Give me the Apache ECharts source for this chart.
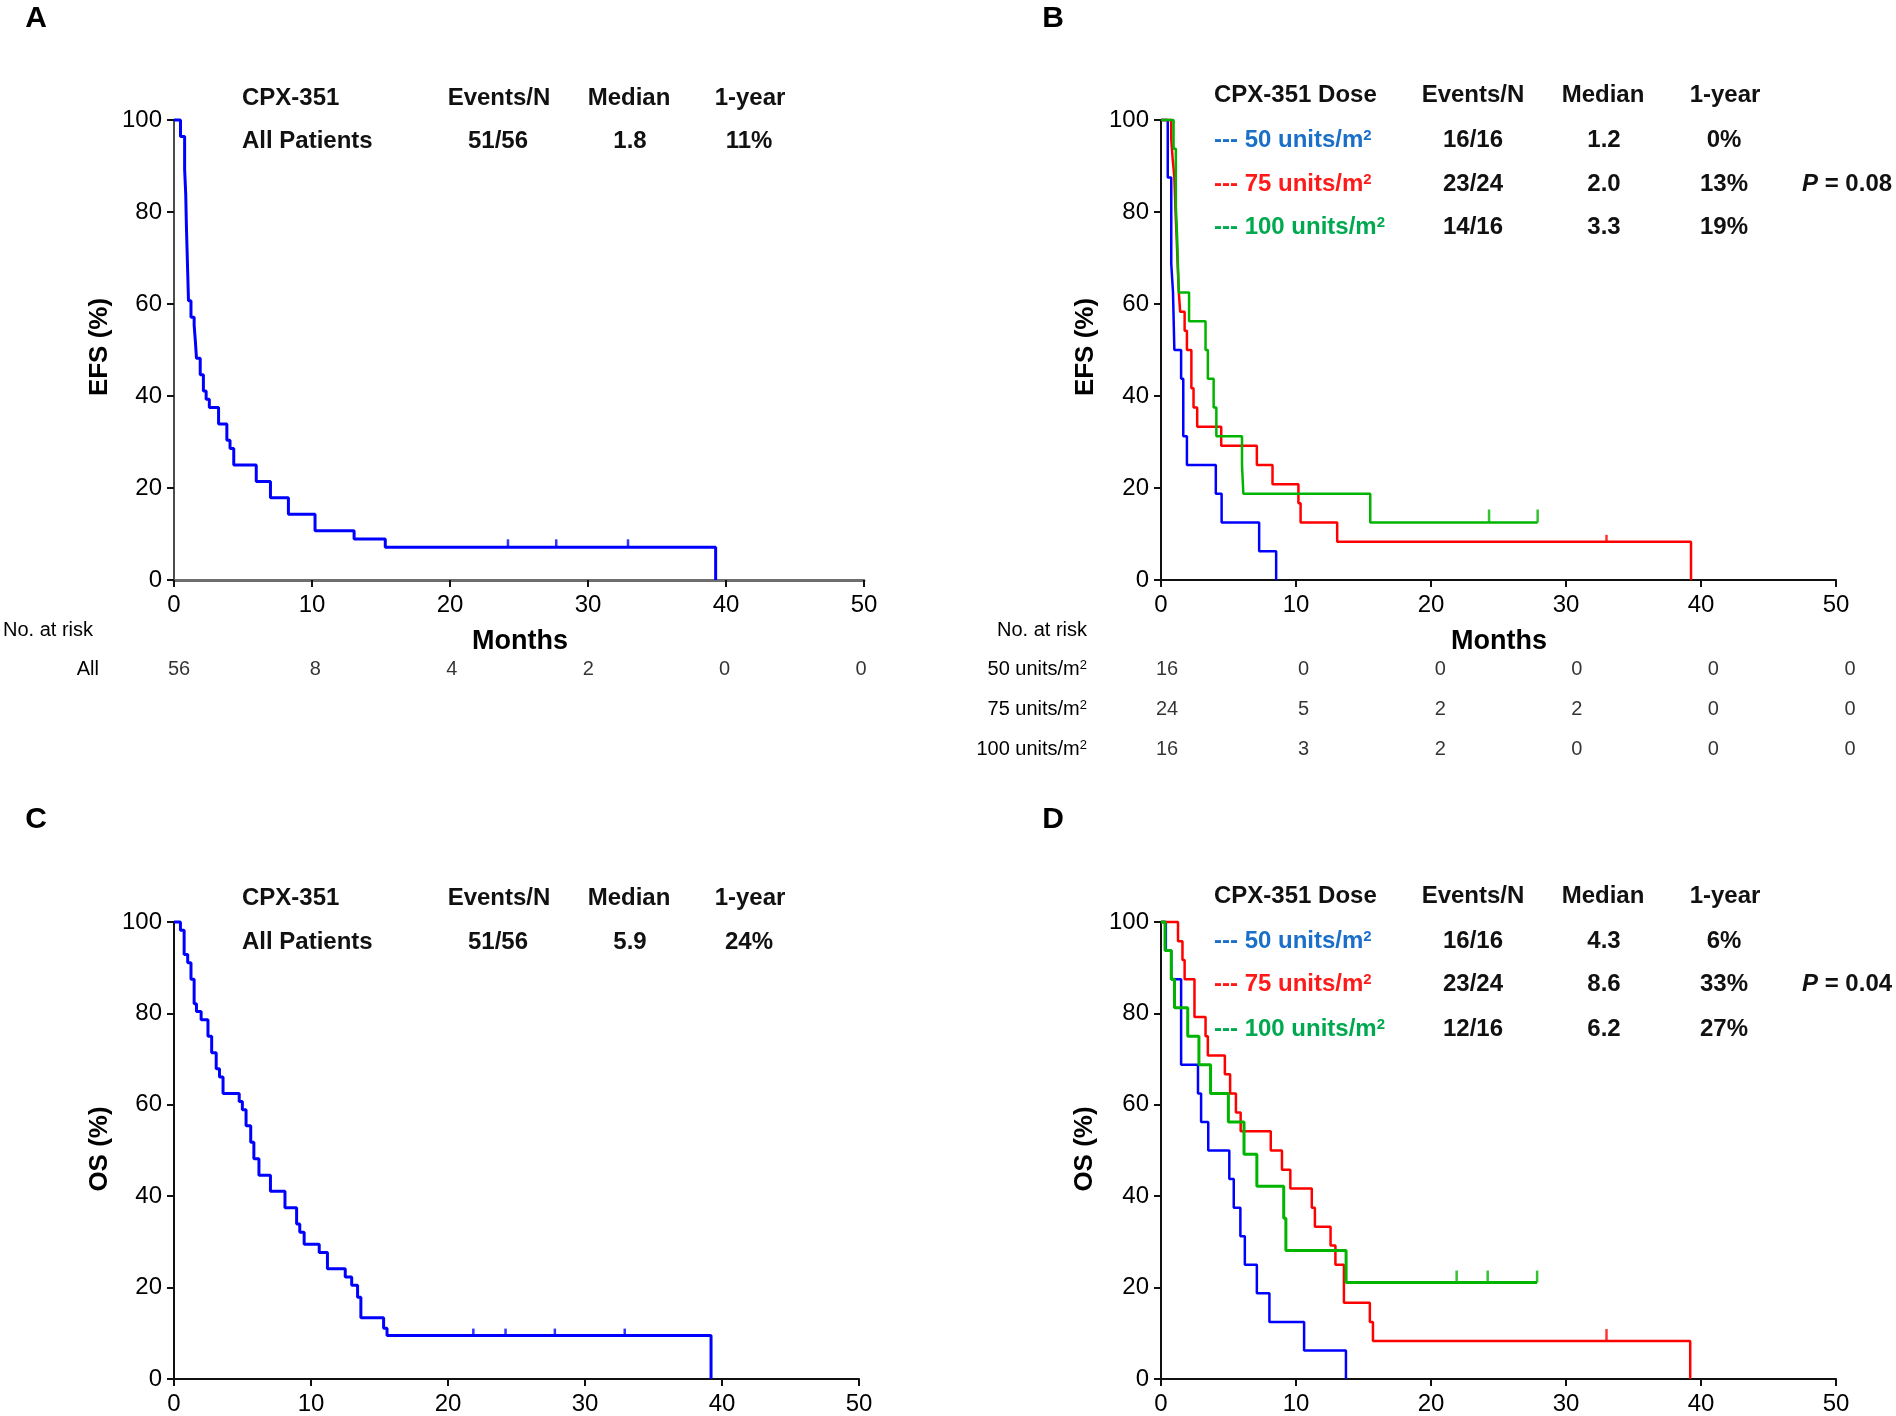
<!DOCTYPE html>
<html><head><meta charset="utf-8">
<script src="https://cdn.jsdelivr.net/npm/echarts/dist/echarts.min.js"></script>
<style>html,body{margin:0;padding:0;background:#fff}#c{width:1896px;height:1416px}</style>
</head><body><div id="c"></div><script>
// ---------- DATA ----------
// Panel A: EFS, all patients (time in months, survival %)
const efsAllT = [0,0.47,0.77,0.85,0.9,1.0,1.05,1.23,1.46,1.55,1.63,1.9,2.13,2.33,2.56,3.23,3.83,4.06,4.33,5.96,6.99,8.29,10.22,13.05,15.31,39.25];
const efsAllS = [100,96.4,89.3,83.9,76.8,66.1,60.7,57.1,55.4,51.8,48.2,44.6,41.1,39.3,37.5,33.9,30.4,28.6,25.0,21.4,17.9,14.3,10.7,8.9,7.1,0];
const efsAllCensT = [24.2,27.7,32.9];
const efsAllCensS = [7.1,7.1,7.1];

// Panel B: EFS by dose
const efs50T = [0,0.5,0.76,0.89,0.99,1.49,1.65,1.92,4.06,4.49,7.27,8.53];
const efs50S = [100,87.5,68.75,62.5,50,43.75,31.25,25,18.75,12.5,6.25,0];
const efs75T = [0,0.76,0.86,0.99,1.09,1.15,1.26,1.32,1.42,1.75,1.92,2.25,2.41,2.68,4.46,7.1,8.26,10.18,10.34,13.05,39.26];
const efs75S = [100,95.8,91.7,87.5,79.2,75,66.7,62.5,58.3,54.2,50,41.7,37.5,33.3,29.2,25,20.8,16.7,12.5,8.3,0];
const efs75CensT = [33.0];
const efs75CensS = [8.3];
const efs100T = [0,0.93,1.1,1.19,1.25,1.32,2.08,3.3,3.47,3.9,4.1,6.0,6.1,15.5,27.9];
const efs100S = [100,93.75,81.25,75,68.75,62.5,56.25,50,43.75,37.5,31.25,25,18.75,12.5,12.5];
const efs100CensT = [24.3,27.9];
const efs100CensS = [12.5,12.5];

// Panel C: OS, all patients
const osAllT = [0,0.47,0.74,1.0,1.24,1.47,1.64,1.98,2.48,2.75,3.08,3.32,3.58,4.76,4.99,5.26,5.6,5.83,6.2,7.04,8.1,8.95,9.18,9.5,10.6,11.2,12.5,12.97,13.4,13.64,15.3,15.55,39.2];
const osAllS = [100,98.2,92.9,91.1,87.5,82.1,80.4,78.6,75,71.4,67.9,66.1,62.5,60.7,58.9,55.4,51.8,48.2,44.6,41.1,37.5,33.9,32.1,29.5,27.7,24.1,22.3,20.5,17.9,13.4,11.1,9.5,0];
const osAllCensT = [21.85,24.2,27.8,32.9];
const osAllCensS = [9.5,9.5,9.5,9.5];

// Panel D: OS by dose
const os50T = [0,0.36,0.76,1.49,2.74,2.97,3.5,5.06,5.39,5.88,6.21,7.1,8.03,10.6,13.7];
const os50S = [100,93.75,87.5,68.75,62.5,56.25,50,43.75,37.5,31.25,25,18.75,12.5,6.25,0];
const os75T = [0,1.26,1.59,1.75,2.48,3.3,3.47,4.73,5.12,5.55,5.9,8.13,8.96,9.58,11.17,11.4,12.56,12.92,13.55,15.47,15.7,39.2];
const os75S = [100,95.8,91.7,87.5,79.2,75,70.8,66.7,62.5,58.3,54.2,50,45.8,41.7,37.5,33.3,29.2,25,16.7,12.5,8.3,0];
const os75CensT = [33.0];
const os75CensS = [8.3];
const os100T = [0,0.3,0.76,1.0,1.98,2.81,3.67,4.99,6.15,7.1,9.09,9.25,13.71,27.86];
const os100S = [100,93.75,87.5,81.25,75,68.75,62.5,56.25,49.2,42.2,35.2,28.1,21.1,21.1];
const os100CensT = [21.9,24.2,27.86];
const os100CensS = [21.1,21.1,21.1];

// Axis ticks
const xTicks = [0,10,20,30,40,50];

// Risk tables
const riskRowsA = ['All'];
const riskAll = [56,8,4,2,0,0];
const riskRowsB = ['50 units/m²','75 units/m²','100 units/m²'];
const risk50 = [16,0,0,0,0,0];
const risk75 = [24,5,2,2,0,0];
const risk100 = [16,3,2,0,0,0];

// Summary tables
const tableHeadAll = ['CPX-351','Events/N','Median','1-year'];
const tableHeadDose = ['CPX-351 Dose','Events/N','Median','1-year'];
const efsAllRow = ['All Patients','51/56','1.8','11%'];
const osAllRow = ['All Patients','51/56','5.9','24%'];
const doseLabels = ['50 units/m²','75 units/m²','100 units/m²'];
const efsDoseEvents = ['16/16','23/24','14/16'];
const efsDoseMedian = ['1.2','2.0','3.3'];
const efsDoseYear = ['0%','13%','19%'];
const osDoseEvents = ['16/16','23/24','12/16'];
const osDoseMedian = ['4.3','8.6','6.2'];
const osDoseYear = ['6%','33%','27%'];
const pEFS = '0.08';
const pOS = '0.04';

// ---------- CHART ----------
const FONT = '"Liberation Sans", Arial, Helvetica, sans-serif';
const BLUE = '#0000ff', RED = '#ff0000', GREEN = '#00b400';
const TXT_BLUE = '#1a6fc9', TXT_RED = '#ff1a1a', TXT_GREEN = '#00a94f';

const zip = (t, s) => t.map((v, i) => [v, s[i]]);
const supify = s => s.replace('²', '{s|2}');

const grids = [
  {left:174, top:120, width:690, height:460},   // A
  {left:1161, top:120, width:675, height:460},  // B
  {left:174, top:922, width:685, height:458},   // C
  {left:1161, top:922, width:675, height:458},  // D
  {left:179, top:649, width:682, height:40},    // A risk
  {left:1167, top:649, width:683, height:120}   // B risk
];

function plotX(gi, axisColor, w) {
  return {
    gridIndex: gi, type:'value', min:0, max:50, interval:10,
    axisLine:{show:true, onZero:false, lineStyle:{color:axisColor||'#111', width:w||2}},
    axisTick:{show:true, inside:false, length:7, lineStyle:{color:'#111', width:2}},
    axisLabel:{show:true, fontSize:24, color:'#000', margin:13, fontFamily:FONT},
    splitLine:{show:false}
  };
}
function plotY(gi, w) {
  return {
    gridIndex: gi, type:'value', min:0, max:100, interval:20,
    axisLine:{show:true, onZero:false, lineStyle:{color:'#111', width:w||2}},
    axisTick:{show:true, inside:false, length:7, lineStyle:{color:'#111', width:2}},
    axisLabel:{show:true, fontSize:24, color:'#000', margin:12, fontFamily:FONT},
    splitLine:{show:false}
  };
}
function riskX(gi) {
  return {gridIndex:gi, type:'value', min:0, max:50, interval:10, show:false};
}
function riskY(gi, rows) {
  return {
    gridIndex:gi, type:'category', data:rows, inverse:true,
    axisLine:{show:false}, axisTick:{show:false}, splitLine:{show:false},
    axisLabel:{show:true, fontSize:20, color:'#000', margin:80, fontFamily:FONT,
      formatter: v => supify(v),
      rich:{s:{fontSize:13, color:'#000', fontFamily:FONT, verticalAlign:'top', lineHeight:20}}}
  };
}

function km(name, gi, t, s, color, w) {
  return {
    name, type:'line', step:'end', xAxisIndex:gi, yAxisIndex:gi,
    data: zip(t, s), symbol:'none', showSymbol:false, clip:false,
    lineStyle:{color, width:w||2.5}, itemStyle:{color}, animation:false, z:3
  };
}
function cens(gi, t, s, color, h) {
  return {
    type:'scatter', xAxisIndex:gi, yAxisIndex:gi, data: zip(t, s),
    symbol:'rect', symbolSize:[2.5, h], symbolOffset:[0, -h/2],
    itemStyle:{color}, animation:false, z:4, silent:true
  };
}
function riskSeries(gi, row, vals) {
  return {
    type:'scatter', xAxisIndex:gi, yAxisIndex:gi,
    data: xTicks.map((x, i) => [x, row, vals[i]]),
    symbolSize:1, itemStyle:{color:'rgba(0,0,0,0)'}, animation:false, silent:true,
    label:{show:true, position:'inside', formatter:p => String(p.value[2]), fontSize:20, color:'#000', fontFamily:FONT}
  };
}

function T(x, y, text, o) {
  o = o || {};
  const st = {
    text, x:0, y:0,
    fontSize:o.size||24, fontWeight:o.weight||'bold', fontFamily:FONT,
    fill:o.color||'#111',
    align:o.align||'left', verticalAlign:'middle',
    textAlign:o.align||'left', textVerticalAlign:'middle'
  };
  if (o.rich) st.rich = o.rich;
  const el = {type:'text', x, y, style:st, silent:true, z:10};
  if (o.rot) el.rotation = o.rot;
  return el;
}

const graphics = [];
// panel letters
graphics.push(T(36,19,'A',{size:30,align:'center',color:'#000'}));
graphics.push(T(1053,19,'B',{size:30,align:'center',color:'#000'}));
graphics.push(T(36,820,'C',{size:30,align:'center',color:'#000'}));
graphics.push(T(1053,820,'D',{size:30,align:'center',color:'#000'}));
// axis names
graphics.push(T(100,347,'EFS (%)',{size:26,align:'center',rot:Math.PI/2,color:'#000'}));
graphics.push(T(1086,347,'EFS (%)',{size:26,align:'center',rot:Math.PI/2,color:'#000'}));
graphics.push(T(100,1149,'OS (%)',{size:26,align:'center',rot:Math.PI/2,color:'#000'}));
graphics.push(T(1085,1149,'OS (%)',{size:26,align:'center',rot:Math.PI/2,color:'#000'}));
// risk table annotations
graphics.push(T(3,630,'No. at risk',{size:20,weight:'normal',color:'#000'}));
graphics.push(T(1087,630,'No. at risk',{size:20,weight:'normal',align:'right',color:'#000'}));
graphics.push(T(520,642,'Months',{size:27,align:'center',color:'#000'}));
graphics.push(T(1499,642,'Months',{size:27,align:'center',color:'#000'}));

// summary tables (single-group panels)
function allTable(yHead, yRow, row) {
  graphics.push(T(242,yHead,tableHeadAll[0]));
  graphics.push(T(499,yHead,tableHeadAll[1],{align:'center'}));
  graphics.push(T(629,yHead,tableHeadAll[2],{align:'center'}));
  graphics.push(T(750,yHead,tableHeadAll[3],{align:'center'}));
  graphics.push(T(242,yRow,row[0]));
  graphics.push(T(498,yRow,row[1],{align:'center'}));
  graphics.push(T(630,yRow,row[2],{align:'center'}));
  graphics.push(T(749,yRow,row[3],{align:'center'}));
}
allTable(98,141.5,efsAllRow);
allTable(898,942,osAllRow);

function doseTable(yHead, rowsY, ev, med, yr, pval) {
  const cols = [TXT_BLUE, TXT_RED, TXT_GREEN];
  graphics.push(T(1214,yHead,tableHeadDose[0]));
  graphics.push(T(1473,yHead,tableHeadDose[1],{align:'center'}));
  graphics.push(T(1603,yHead,tableHeadDose[2],{align:'center'}));
  graphics.push(T(1725,yHead,tableHeadDose[3],{align:'center'}));
  rowsY.forEach((y, i) => {
    graphics.push(T(1214,y,'--- ' + supify(doseLabels[i]),{color:cols[i],
      rich:{s:{fontSize:15, fontWeight:'bold', fontFamily:FONT, fill:cols[i], verticalAlign:'top', lineHeight:24}}}));
    graphics.push(T(1473,y,ev[i],{align:'center'}));
    graphics.push(T(1604,y,med[i],{align:'center'}));
    graphics.push(T(1724,y,yr[i],{align:'center'}));
  });
  graphics.push(T(1802,rowsY[1],'{i|P} = ' + pval,{
    rich:{i:{fontStyle:'italic',fontWeight:'bold',fontSize:24,fontFamily:FONT,fill:'#111'}}
  }));
}
doseTable(95.5,[140,184,227],efsDoseEvents,efsDoseMedian,efsDoseYear,pEFS);
doseTable(896,[941,984,1029],osDoseEvents,osDoseMedian,osDoseYear,pOS);

const option = {
  backgroundColor:'#fff',
  animation:false,
  textStyle:{fontFamily:FONT},
  grid: grids.map(g => Object.assign({containLabel:false}, g)),
  xAxis: [plotX(0,'#6e6e6e',3), plotX(1), plotX(2), plotX(3), riskX(4), riskX(5)],
  yAxis: [plotY(0,1.5), plotY(1), plotY(2), plotY(3), riskY(4, riskRowsA), riskY(5, riskRowsB)],
  series: [
    km('EFS all', 0, efsAllT, efsAllS, BLUE, 3),
    cens(0, efsAllCensT, efsAllCensS, BLUE, 8),

    km('EFS 50', 1, efs50T, efs50S, BLUE),
    km('EFS 75', 1, efs75T, efs75S, RED),
    cens(1, efs75CensT, efs75CensS, RED, 7),
    km('EFS 100', 1, efs100T, efs100S, GREEN),
    cens(1, efs100CensT, efs100CensS, GREEN, 13),

    km('OS all', 2, osAllT, osAllS, BLUE, 3),
    cens(2, osAllCensT, osAllCensS, BLUE, 7),

    km('OS 50', 3, os50T, os50S, BLUE),
    km('OS 75', 3, os75T, os75S, RED),
    cens(3, os75CensT, os75CensS, RED, 12),
    km('OS 100', 3, os100T, os100S, GREEN, 3),
    cens(3, os100CensT, os100CensS, GREEN, 12),

    riskSeries(4, riskRowsA[0], riskAll),
    riskSeries(5, riskRowsB[0], risk50),
    riskSeries(5, riskRowsB[1], risk75),
    riskSeries(5, riskRowsB[2], risk100)
  ],
  graphic: graphics
};

const chart = echarts.init(document.getElementById('c'), null, {renderer:'canvas', width:1896, height:1416});
chart.setOption(option);
</script></body></html>
